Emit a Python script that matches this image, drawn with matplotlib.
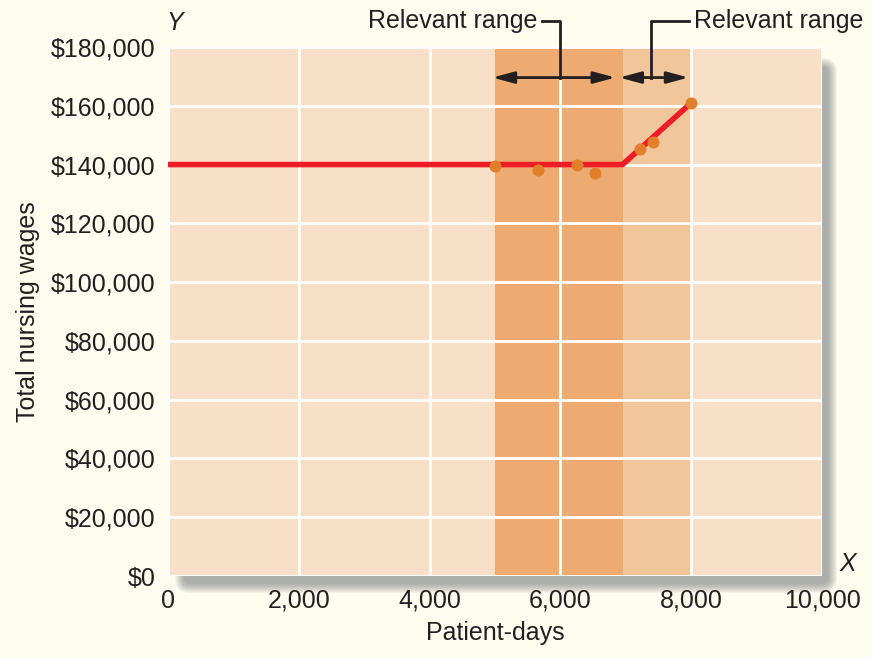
import numpy as np
import matplotlib
matplotlib.use('Agg')
import matplotlib.pyplot as plt
from matplotlib.patches import FancyBboxPatch
from matplotlib.ticker import FuncFormatter

# ── data ──
obs_days = [5000, 5660, 6250, 6530, 7220, 7420, 8000]
obs_wages = [139500, 138200, 139800, 137200, 145200, 147800, 161000]
line_days = [0, 6950, 8000]
line_wages = [140000, 140000, 161000]
range_low = (5000, 6950)
range_high = (6950, 8000)

colors = {'bg': '#fffdf0', 'plot': '#f8dfc8', 'band1': '#edab72', 'band2': '#f2c69b',
          'line': '#ee1c25', 'dot': '#e2802a', 'text': '#231f20'}

plt.rcParams['font.family'] = ['Liberation Sans', 'DejaVu Sans']
FS = 18

fig = plt.figure(figsize=(8.71, 6.58), dpi=100)
fig.patch.set_facecolor(colors['bg'])

W, H = 871, 658
left, right, top, bottom = 168, 822, 47, 576

# background layer in pixel coordinates for the drop shadow
bg = fig.add_axes([0, 0, 1, 1], zorder=0)
bg.set_xlim(0, W)
bg.set_ylim(H, 0)
bg.axis('off')
x0, y0, x1, y1 = left + 16, top + 20, right + 6, bottom + 8
for i in range(10):
    g = i * 1.0
    sh = FancyBboxPatch((x0 - g, y0 - g), (x1 - x0) + 2 * g, (y1 - y0) + 2 * g,
                        boxstyle='round,pad=0,rounding_size=%d' % (6 + i),
                        facecolor='#6e7378', edgecolor='none', alpha=0.075)
    bg.add_patch(sh)

ax = fig.add_axes([left / W, (H - bottom) / H, (right - left) / W, (bottom - top) / H], zorder=1)
ax.set_facecolor(colors['plot'])
ax.set_xlim(0, 10000)
ax.set_ylim(0, 180000)

ax.axvspan(*range_low, color=colors['band1'], lw=0, zorder=1)
ax.axvspan(*range_high, color=colors['band2'], lw=0, zorder=1)

ax.set_xticks(np.arange(0, 10001, 2000))
ax.set_yticks(np.arange(0, 180001, 20000))
ax.grid(True, color='white', lw=2, zorder=2)
ax.set_axisbelow(False)
for s in ax.spines.values():
    s.set_visible(False)
ax.tick_params(length=0, labelsize=FS, colors=colors['text'], pad=9)
ax.xaxis.set_major_formatter(FuncFormatter(lambda v, p: f'{v:,.0f}'))
ax.yaxis.set_major_formatter(FuncFormatter(lambda v, p: f'${v:,.0f}'))

ax.plot(line_days, line_wages, color=colors['line'], lw=4, zorder=3, solid_capstyle='butt')
ax.scatter(obs_days, obs_wages, s=75, color=colors['dot'], zorder=4, lw=0)

ax.set_xlabel('Patient-days', fontsize=FS, color=colors['text'], labelpad=6)
ax.set_ylabel('Total nursing wages', fontsize=FS, color=colors['text'], labelpad=8)

ax.text(0.01, 1.022, 'Y', transform=ax.transAxes, fontsize=FS, style='italic',
        color=colors['text'], ha='center', va='bottom')
ax.text(1.04, 0.0, 'X', transform=ax.transAxes, fontsize=FS, style='italic',
        color=colors['text'], ha='center', va='bottom')

# relevant range markers
arrow_y = 169600
label_y = 189000
ap = dict(arrowstyle='<|-|>,head_length=1.3,head_width=0.35', color=colors['text'], lw=2,
          shrinkA=0, shrinkB=0)
ax.annotate('', xy=(4960, arrow_y), xytext=(6840, arrow_y), arrowprops=ap, annotation_clip=False)
ax.annotate('', xy=(6900, arrow_y), xytext=(7960, arrow_y), arrowprops=ap, annotation_clip=False)

ax.plot([5720, 6000, 6000], [label_y, label_y, arrow_y], color=colors['text'], lw=2,
        clip_on=False, zorder=5)
ax.plot([7390, 7390, 7970], [arrow_y, label_y, label_y], color=colors['text'], lw=2,
        clip_on=False, zorder=5)
ax.text(5650, label_y, 'Relevant range', fontsize=FS, color=colors['text'],
        ha='right', va='center')
ax.text(8050, label_y, 'Relevant range', fontsize=FS, color=colors['text'],
        ha='left', va='center')

plt.savefig('out.png', dpi=100, facecolor=fig.get_facecolor())
